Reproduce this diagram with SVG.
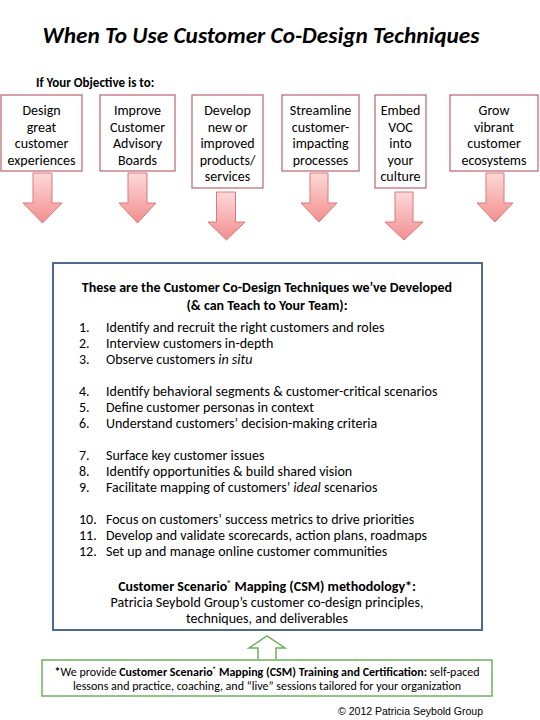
<svg xmlns="http://www.w3.org/2000/svg" width="540" height="720" viewBox="0 0 540 720">
<defs>
<linearGradient id="pink" x1="0" y1="0" x2="0" y2="1">
<stop offset="0" stop-color="#fcd9d9"/>
<stop offset="1" stop-color="#f28f8f"/>
</linearGradient>
<style>
.t{font-family:Carlito,Lato,"Open Sans",sans-serif;fill:#000}
.obj{fill:#fff;stroke:#b9646c;stroke-width:1.2}
.obt{font-size:14px;text-anchor:middle}
.arr{fill:url(#pink);stroke:#d9787c;stroke-width:1}
.li{font-size:14px}
.c{text-anchor:middle}
.b{font-weight:bold}
</style>
</defs>
<rect width="540" height="720" fill="#fff"/>
<text class="t b" x="261" y="43" font-size="22" font-style="italic" text-anchor="middle" textLength="437" lengthAdjust="spacingAndGlyphs">When To Use Customer Co-Design Techniques</text>
<text class="t b" x="36" y="87" font-size="13">If Your Objective is to:</text>

<g id="obj1"><rect class="obj" x="1" y="95" width="81" height="76"/>
<text class="t obt" x="41.5" y="115">Design</text><text class="t obt" x="41.5" y="131.5">great</text><text class="t obt" x="41.5" y="148">customer</text><text class="t obt" x="41.5" y="164.5">experiences</text></g>
<g id="obj2"><rect class="obj" x="100" y="95" width="75" height="76"/>
<text class="t obt" x="137.5" y="115">Improve</text><text class="t obt" x="137.5" y="131.5">Customer</text><text class="t obt" x="137.5" y="148">Advisory</text><text class="t obt" x="137.5" y="164.5">Boards</text></g>
<g id="obj3"><rect class="obj" x="192" y="95" width="71" height="93"/>
<text class="t obt" x="227.5" y="115">Develop</text><text class="t obt" x="227.5" y="131.5">new or</text><text class="t obt" x="227.5" y="148">improved</text><text class="t obt" x="227.5" y="164.5">products/</text><text class="t obt" x="227.5" y="181">services</text></g>
<g id="obj4"><rect class="obj" x="282" y="95" width="77" height="76"/>
<text class="t obt" x="320.5" y="115">Streamline</text><text class="t obt" x="320.5" y="131.5">customer-</text><text class="t obt" x="320.5" y="148">impacting</text><text class="t obt" x="320.5" y="164.5">processes</text></g>
<g id="obj5"><rect class="obj" x="375" y="95" width="51" height="93"/>
<text class="t obt" x="400.5" y="115">Embed</text><text class="t obt" x="400.5" y="131.5">VOC</text><text class="t obt" x="400.5" y="148">into</text><text class="t obt" x="400.5" y="164.5">your</text><text class="t obt" x="400.5" y="181">culture</text></g>
<g id="obj6"><rect class="obj" x="450" y="95" width="88" height="76"/>
<text class="t obt" x="494" y="115">Grow</text><text class="t obt" x="494" y="131.5">vibrant</text><text class="t obt" x="494" y="148">customer</text><text class="t obt" x="494" y="164.5">ecosystems</text></g>

<g id="connectors">
<path class="arr" d="M33 173H52V203H62L42.5 223L23 203H33Z"/>
<path class="arr" d="M128 173H147V203H156L137.5 223L119 203H128Z"/>
<path class="arr" d="M216.5 192H235.5V222H245L226.5 240L208 222H216.5Z"/>
<path class="arr" d="M310 173H328V203H337L319 222L301 203H310Z"/>
<path class="arr" d="M395 192H413V222H423L404 240L385 222H395Z"/>
<path class="arr" d="M486 173H504V203H513L495 222L477 203H486Z"/>
<path d="M258 659V648H249L267 636L285 648H276V659" fill="#fff" stroke="#6bb25a" stroke-width="1.5"/>
</g>

<g id="techniques">
<rect x="53" y="263" width="429" height="367" fill="#fff" stroke="#50698f" stroke-width="2"/>
<text class="t b c" x="267" y="292" font-size="14">These are the Customer Co-Design Techniques we’ve Developed</text>
<text class="t b c" x="267" y="310" font-size="14">(&amp; can Teach to Your Team):</text>
<g class="t li">
<text x="79" y="332">1.</text><text x="106" y="332">Identify and recruit the right customers and roles</text>
<text x="79" y="348">2.</text><text x="106" y="348">Interview customers in-depth</text>
<text x="79" y="364">3.</text><text x="106" y="364">Observe customers <tspan font-style="italic">in situ</tspan></text>
<text x="79" y="396">4.</text><text x="106" y="396">Identify behavioral segments &amp; customer-critical scenarios</text>
<text x="79" y="412">5.</text><text x="106" y="412">Define customer personas in context</text>
<text x="79" y="428">6.</text><text x="106" y="428">Understand customers’ decision-making criteria</text>
<text x="79" y="460">7.</text><text x="106" y="460">Surface key customer issues</text>
<text x="79" y="476">8.</text><text x="106" y="476">Identify opportunities &amp; build shared vision</text>
<text x="79" y="492">9.</text><text x="106" y="492">Facilitate mapping of customers’ <tspan font-style="italic">ideal</tspan> scenarios</text>
<text x="79" y="524">10.</text><text x="106" y="524">Focus on customers’ success metrics to drive priorities</text>
<text x="79" y="540">11.</text><text x="106" y="540">Develop and validate scorecards, action plans, roadmaps</text>
<text x="79" y="556">12.</text><text x="106" y="556">Set up and manage online customer communities</text>
</g>
<text class="t b c" x="267" y="591" font-size="14">Customer Scenario<tspan font-size="8" dy="-5">®</tspan><tspan dy="5"> Mapping (CSM) methodology*:</tspan></text>
<text class="t c" x="267" y="607" font-size="14">Patricia Seybold Group’s customer co-design principles,</text>
<text class="t c" x="267" y="623" font-size="14">techniques, and deliverables</text>
</g>

<g id="training">
<rect x="42" y="660" width="450" height="36" fill="#fff" stroke="#6bb25a" stroke-width="1.5"/>
<text class="t c" x="267" y="676" font-size="12"><tspan font-weight="bold">*</tspan>We provide <tspan font-weight="bold">Customer Scenario<tspan font-size="7" dy="-4">®</tspan><tspan dy="4"> Mapping (CSM) Training and Certification:</tspan></tspan> self-paced</text>
<text class="t c" x="267" y="690" font-size="12">lessons and practice, coaching, and “live” sessions tailored for your organization</text>
</g>
<text x="483" y="715" font-family="Liberation Sans,Arial,sans-serif" font-size="10.5" text-anchor="end" fill="#000">© 2012 Patricia Seybold Group</text>
</svg>
